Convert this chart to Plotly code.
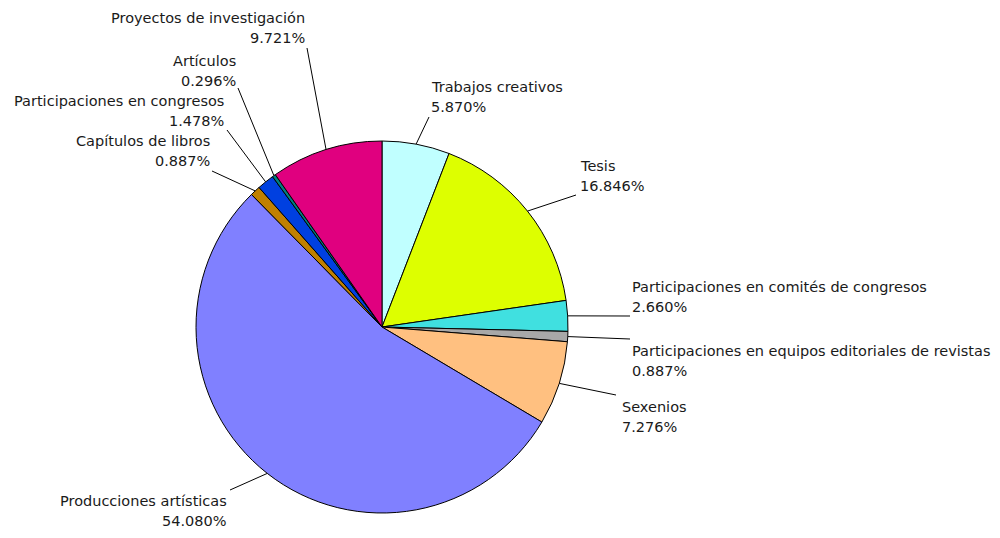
import math
import plotly.graph_objects as go

# ---- data ----
categories = [
    "Trabajos creativos",
    "Tesis",
    "Participaciones en comités de congresos",
    "Participaciones en equipos editoriales de revistas",
    "Sexenios",
    "Producciones artísticas",
    "Capítulos de libros",
    "Participaciones en congresos",
    "Artículos",
    "Proyectos de investigación",
]
percentages = [5.870, 16.846, 2.660, 0.887, 7.276, 54.080, 0.887, 1.478, 0.296, 9.721]

# ---- styles / layout ----
colors = ["#C0FFFF", "#DDFF00", "#40E0E0", "#A8A8A8", "#FFC080",
          "#8080FF", "#C08000", "#0040E0", "#008080", "#E0007F"]

OFF = 8  # page body margin in the browser
W, H = 1000 - 2 * OFF, 538 - 2 * OFF
CX, CY, R = 382, 327, 186  # pie centre and radius in screen pixels

# label anchor (x, y of first line centre), alignment, leader start (screen pixels)
label_x = [429, 578, 630, 630, 620, 229, 212, 226, 238, 307]
label_y = [87, 166, 287, 351, 407, 501, 141, 101, 61, 18]
label_side = ["left", "left", "left", "left", "left",
              "right", "right", "right", "right", "right"]
leader_x = [429, 576, 630, 630, 616, 230, 212, 227, 238, 307]
leader_y = [117, 195, 316, 339, 395, 490, 171, 130, 88, 48]
LINE_GAP = 20

FONT = dict(family="DejaVu Sans", size=14.5, color="#1a1a1a")


def px(x):
    return (x - OFF) / W


def py(y):
    return 1 - (y - OFF) / H


fig = go.Figure()
fig.add_trace(go.Pie(
    labels=categories,
    values=percentages,
    sort=False,
    direction="clockwise",
    rotation=0,
    textinfo="none",
    marker=dict(colors=colors, line=dict(color="black", width=1)),
    domain=dict(x=[px(CX - R), px(CX + R)],
                y=[py(CY + R), py(CY - R)]),
    showlegend=False,
))

total = sum(percentages)
cum = 0.0
shapes = []
annotations = []
for i, (name, p) in enumerate(zip(categories, percentages)):
    mid = (cum + p / 2) / total * 2 * math.pi
    cum += p
    ex = CX + R * math.sin(mid)
    ey = CY - R * math.cos(mid)
    shapes.append(dict(type="line", xref="paper", yref="paper",
                       x0=px(leader_x[i]), y0=py(leader_y[i]),
                       x1=px(ex), y1=py(ey),
                       line=dict(color="black", width=1)))
    for j, txt in enumerate([name, f"{p:.3f}%"]):
        annotations.append(dict(
            text=txt, showarrow=False, xref="paper", yref="paper",
            x=px(label_x[i]), y=py(label_y[i] + j * LINE_GAP),
            xanchor=label_side[i], yanchor="middle", font=FONT,
        ))

fig.update_layout(
    width=W, height=H,
    margin=dict(l=0, r=0, t=0, b=0),
    paper_bgcolor="white", plot_bgcolor="white",
    shapes=shapes, annotations=annotations,
)

fig.write_html("out.html")
